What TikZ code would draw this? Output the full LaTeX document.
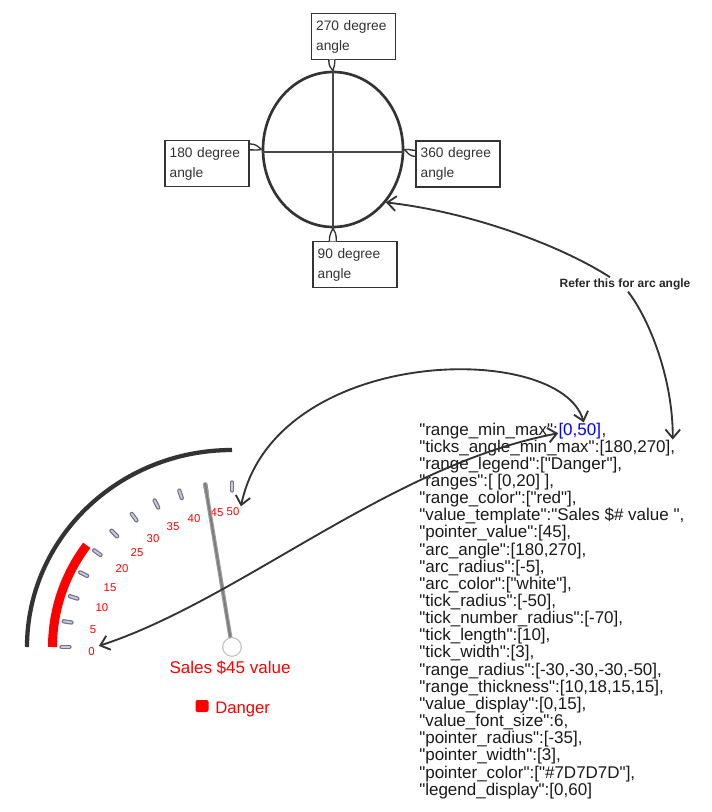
\documentclass[tikz,border=0pt]{standalone}
\usepackage{fontspec}
\setmainfont{Liberation Sans}[Ligatures=TeXOff]
\usetikzlibrary{shapes.geometric,arrows.meta,calc}
\definecolor{ink}{HTML}{333333}
\definecolor{ptr}{HTML}{7D7D7D}
\definecolor{tickdark}{HTML}{70708A}
\definecolor{ticklight}{HTML}{CACAD8}
\definecolor{codeblue}{HTML}{0000FF}
\begin{document}
\begin{tikzpicture}[x=0.75pt,y=-0.75pt,
  abox/.style={draw=ink, line width=1pt, fill=white, text=ink,
    font=\fontsize{10.3}{15}\selectfont, align=left, text width=56pt,
    inner xsep=3.5pt, inner ysep=0pt, minimum height=34.5pt},
  tailst/.style={draw=ink, line width=1pt},
  code/.style={anchor=base west, inner sep=0pt, text=black!90,
    font=\fontsize{12.75}{13}\selectfont},
  tlabel/.style={text=red, font=\fontsize{8.5}{9}\selectfont, inner sep=1pt},
  arrone/.style={draw=ink, line width=1.4pt,
    arrows={-Straight Barb[length=6.5pt,width=11pt]}},
  arrtwo/.style={draw=ink, line width=1.4pt,
    arrows={Straight Barb[length=6.5pt,width=11pt]-Straight Barb[length=6.5pt,width=11pt]}},
  tickst/.style={line cap=round}
]
\useasboundingbox (0,0) rectangle (712,812);

% ---------- circle diagram ----------
\node[draw=ink, ellipse, line width=2pt, minimum width=105pt, minimum height=116.25pt, inner sep=0pt] (circ) at (333,149.5) {};
\draw[draw=ink!90, line width=1pt] ([yshift=-2pt]circ.west) -- ([yshift=-2pt]circ.east);
\draw[draw=ink!90, line width=1pt] (circ.north) -- (circ.south);

\node[abox] (b270) at (353.5,36.5) {270 degree\\angle};
\node[abox] (b180) at (207,163.5) {180 degree\\angle};
\node[abox] (b360) at (458,164) {360 degree\\angle};
\node[abox] (b90) at (355,264.5) {90 degree\\angle};

% tails
\fill[white] ($(b270.south west)+(18,-0.5)$) -- (circ.north) -- ($(b270.south west)+(24,-0.5)$) -- cycle;
\draw[tailst] ($(b270.south west)+(18,0)$) .. controls +(0,7) and +(-2,-3) .. (circ.north);
\draw[tailst] ($(b270.south west)+(24,0)$) .. controls +(0,5) and +(1,-4) .. (circ.north);

\fill[white] ($(b180.north east)+(0.5,4)$) -- (circ.west) -- ($(b180.north east)+(0.5,10)$) -- cycle;
\draw[tailst] ($(b180.north east)+(0,4)$) .. controls +(7,0) and +(-3,-2) .. (circ.west);
\draw[tailst] ($(b180.north east)+(0,10)$) .. controls +(6,0) and +(-4,1) .. (circ.west);

\fill[white] ($(b360.north west)+(-0.5,10)$) -- (circ.east) -- ($(b360.north west)+(-0.5,16)$) -- cycle;
\draw[tailst] ($(b360.north west)+(0,10)$) .. controls +(-6,0) and +(4,-1) .. (circ.east);
\draw[tailst] ($(b360.north west)+(0,16)$) .. controls +(-7,0) and +(3,2) .. (circ.east);

\fill[white] ($(b90.north west)+(17,0.5)$) -- (circ.south) -- ($(b90.north west)+(24,0.5)$) -- cycle;
\draw[tailst] ($(b90.north west)+(17,0)$) .. controls +(0,-6) and +(-2,4) .. (circ.south);
\draw[tailst] ($(b90.north west)+(24,0)$) .. controls +(0,-7) and +(2,3) .. (circ.south);

% ---------- code text ----------
\node[code] (l1a) at (419,435) {"range\_min\_max":};
\node[code] (l1b) at (l1a.base east) {\textcolor{codeblue}{[0,50]}};
\node[code] (l1c) at (l1b.base east) {,};
\node[code] (l2) at (419,452.15) {"ticks\_angle\_min\_max":[180,270],};
\node[code] (l3) at (419,469.3) {"range\_legend":["Danger"],};
\node[code] (l4) at (419,486.45) {"ranges":[ [0,20] ],};
\node[code] (l5) at (419,503.6) {"range\_color":["red"],};
\node[code] (l6) at (419,520.75) {"value\_template":"Sales \$\# value ",};
\node[code] (l7) at (419,537.9) {"pointer\_value":[45],};
\node[code] (l8) at (419,555.05) {"arc\_angle":[180,270],};
\node[code] (l9) at (419,572.2) {"arc\_radius":[-5],};
\node[code] (l10) at (419,589.35) {"arc\_color":["white"],};
\node[code] (l11) at (419,606.5) {"tick\_radius":[-50],};
\node[code] (l12) at (419,623.65) {"tick\_number\_radius":[-70],};
\node[code] (l13) at (419,640.8) {"tick\_length":[10],};
\node[code] (l14) at (419,657.95) {"tick\_width":[3],};
\node[code] (l15) at (419,675.1) {"range\_radius":[-30,-30,-30,-50],};
\node[code] (l16) at (419,692.25) {"range\_thickness":[10,18,15,15],};
\node[code] (l17) at (419,709.4) {"value\_display":[0,15],};
\node[code] (l18) at (419,726.55) {"value\_font\_size":6,};
\node[code] (l19) at (419,743.7) {"pointer\_radius":[-35],};
\node[code] (l20) at (419,760.85) {"pointer\_width":[3],};
\node[code] (l21) at (419,778) {"pointer\_color":["\#7D7D7D"],};
\node[code] (l22) at (419,795.15) {"legend\_display":[0,60]};

% ---------- gauge ----------
\coordinate (gc) at (232,647);
\draw[draw=ink, line width=3.2pt] (gc) ++(180:205 and 197) arc[start angle=180, end angle=270, x radius=205, y radius=197];
\draw[draw=red, line width=6.75pt] (gc) ++(180:179.5 and 173) arc[start angle=180, end angle=216, x radius=179.5, y radius=173];
\foreach \v in {0,5,...,50} {
  \pgfmathsetmacro\ang{180+1.8*\v}
  \draw[tickst, draw=tickdark, line width=3.2pt] ($(gc)+(\ang:162.5 and 156.5)$) -- ($(gc)+(\ang:170.5 and 164.5)$);
  \draw[tickst, draw=ticklight, line width=1.4pt] ($(gc)+(\ang:162.5 and 156.5)$) -- ($(gc)+(\ang:170.5 and 164.5)$);
}
\foreach \v/\lx/\ly in {0/91.5/651.5, 5/93/630, 10/102/608, 15/110/588, 20/122/569, 25/137/553, 30/153/539, 35/173/527, 40/194/519, 45/217/513, 50/233/512} {
  \node[tlabel] (t\v) at (\lx,\ly) {\v};
}
\draw[draw=ptr!75, line width=3pt] (gc) -- ($(gc)+(261:173 and 166)$);
\draw[draw=ptr, line width=1.4pt] (gc) -- ($(gc)+(261:173 and 166)$);
\node[circle, draw=black!25, line width=0.8pt, fill=white, minimum size=14pt, inner sep=0pt] (pivot) at (gc) {};

\node[anchor=base, text=red, inner sep=0pt, font=\fontsize{12.75}{14}\selectfont] (val) at (230,673.5) {Sales \$45 value};
\node[fill=red, rounded corners=1.5pt, minimum width=9.75pt, minimum height=9pt, inner sep=0pt] (lsq) at (202,706) {};
\node[anchor=base west, text=red, inner sep=0pt, font=\fontsize{12.5}{14}\selectfont] (leg) at (215,713) {Danger};

% ---------- connectors ----------
\node[anchor=base, inner sep=1pt, text=black!85, font=\bfseries\fontsize{9}{10}\selectfont] (refer) at (625,287.5) {Refer this for arc angle};
\draw[arrone] ([xshift=-11.25pt]refer.north) .. controls (560,245) and (470,212) .. (circ.-45);
\draw[arrone] ([xshift=2.25pt]refer.south) .. controls (650,320) and (673,380) .. ([xshift=-2pt]l2.north east);
\draw[arrtwo] (t50.north east) .. controls (275,345) and (560,340) .. ([xshift=3pt]l1b.north);
\draw[arrtwo] ([xshift=2pt]t0.north east) .. controls (240,600) and (390,465) .. ([yshift=-2pt]l1b.west);
\end{tikzpicture}
\end{document}
